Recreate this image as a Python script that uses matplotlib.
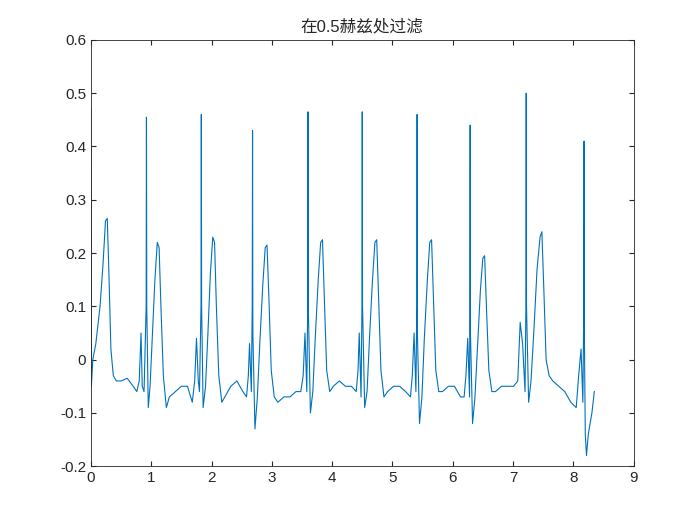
import matplotlib
matplotlib.use("Agg")
import matplotlib.pyplot as plt

plt.rcParams['font.family'] = ['Liberation Sans', 'Noto Sans CJK SC', 'DejaVu Sans']

t = [0.00,0.003,0.006,0.03,0.08,0.15,0.20,0.24,0.27,0.30,0.33,0.37,0.42,0.50,0.60,0.70,0.76,0.80,0.83,0.85,0.88,
     0.915,0.92,0.925,0.95,0.98,1.02,1.06,1.10,1.13,1.16,1.20,1.25,1.30,1.40,1.50,1.60,1.68,1.72,1.75,1.78,1.80,
     1.825,1.83,1.835,1.86,1.90,1.94,1.98,2.02,2.05,2.08,2.12,2.17,2.22,2.32,2.42,2.52,2.58,2.61,2.63,2.66,
     2.675,2.68,2.685,2.72,2.76,2.80,2.85,2.89,2.92,2.95,2.99,3.04,3.10,3.20,3.30,3.40,3.48,3.52,3.55,3.58,
     3.595,3.60,3.605,3.64,3.68,3.72,3.77,3.81,3.84,3.87,3.91,3.96,4.02,4.12,4.22,4.32,4.40,4.43,4.45,4.48,
     4.495,4.50,4.505,4.54,4.58,4.62,4.67,4.71,4.74,4.77,4.81,4.86,4.92,5.02,5.12,5.22,5.30,5.33,5.36,5.39,
     5.405,5.41,5.415,5.45,5.49,5.53,5.58,5.62,5.65,5.68,5.72,5.77,5.83,5.93,6.03,6.13,6.19,6.22,6.25,6.28,
     6.285,6.29,6.295,6.33,6.37,6.41,6.46,6.50,6.53,6.56,6.60,6.65,6.71,6.81,6.91,7.01,7.08,7.12,7.16,7.20,
     7.215,7.22,7.225,7.26,7.30,7.35,7.40,7.45,7.48,7.51,7.55,7.60,7.66,7.76,7.86,7.96,8.05,8.09,8.13,8.16,
     8.175,8.18,8.185,8.20,8.22,8.25,8.28,8.31,8.35]
v = [0.47,0.10,-0.05,0.00,0.03,0.10,0.18,0.26,0.265,0.15,0.02,-0.03,-0.04,-0.04,-0.035,-0.05,-0.06,-0.04,0.05,-0.05,-0.06,
     0.10,0.455,0.10,-0.09,-0.05,0.05,0.15,0.22,0.21,0.10,-0.03,-0.09,-0.07,-0.06,-0.05,-0.05,-0.08,-0.04,0.04,-0.04,-0.06,
     0.10,0.46,0.10,-0.09,-0.05,0.05,0.16,0.23,0.22,0.10,-0.03,-0.08,-0.07,-0.05,-0.04,-0.06,-0.07,-0.03,0.03,-0.06,
     0.10,0.43,0.05,-0.13,-0.07,0.03,0.14,0.21,0.215,0.12,-0.02,-0.07,-0.08,-0.07,-0.07,-0.06,-0.06,-0.03,0.05,-0.06,
     0.10,0.465,0.10,-0.10,-0.06,0.04,0.15,0.22,0.225,0.12,-0.02,-0.06,-0.05,-0.04,-0.05,-0.05,-0.06,-0.02,0.05,-0.07,
     0.10,0.465,0.10,-0.09,-0.06,0.04,0.15,0.22,0.225,0.12,-0.02,-0.07,-0.06,-0.05,-0.05,-0.06,-0.07,-0.03,0.05,-0.06,
     0.10,0.46,0.05,-0.12,-0.07,0.04,0.15,0.22,0.225,0.12,-0.02,-0.06,-0.06,-0.05,-0.05,-0.07,-0.07,-0.03,0.04,-0.07,
     0.10,0.44,0.05,-0.12,-0.07,0.02,0.13,0.19,0.195,0.10,-0.02,-0.06,-0.06,-0.05,-0.05,-0.05,-0.04,0.07,0.03,-0.06,
     0.10,0.50,0.10,-0.08,-0.04,0.06,0.17,0.23,0.24,0.14,0.00,-0.03,-0.04,-0.05,-0.06,-0.08,-0.09,-0.03,0.02,-0.08,
     0.10,0.41,0.05,-0.14,-0.18,-0.14,-0.12,-0.10,-0.06]

fig = plt.figure(figsize=(7, 5.25), dpi=100)
ax = fig.add_axes([0.13, 0.112, 0.775, 0.812])
ax.plot(t, v, color='#0072BD', linewidth=0.8)
ax.set_xlim(0, 9)
ax.set_ylim(-0.2, 0.6)
ax.set_xticks(range(0, 10))
ax.set_yticks([-0.2, -0.1, 0, 0.1, 0.2, 0.3, 0.4, 0.5, 0.6])
ax.set_yticklabels(['-0.2', '-0.1', '0', '0.1', '0.2', '0.3', '0.4', '0.5', '0.6'])
ax.tick_params(direction='in', top=True, right=True, labelsize=11, colors='#262626')
for s in ax.spines.values():
    s.set_color('#262626'); s.set_linewidth(0.6)
ax.set_title('在0.5赫兹处过滤', fontsize=12, color='#262626')
fig.savefig('out.png')
